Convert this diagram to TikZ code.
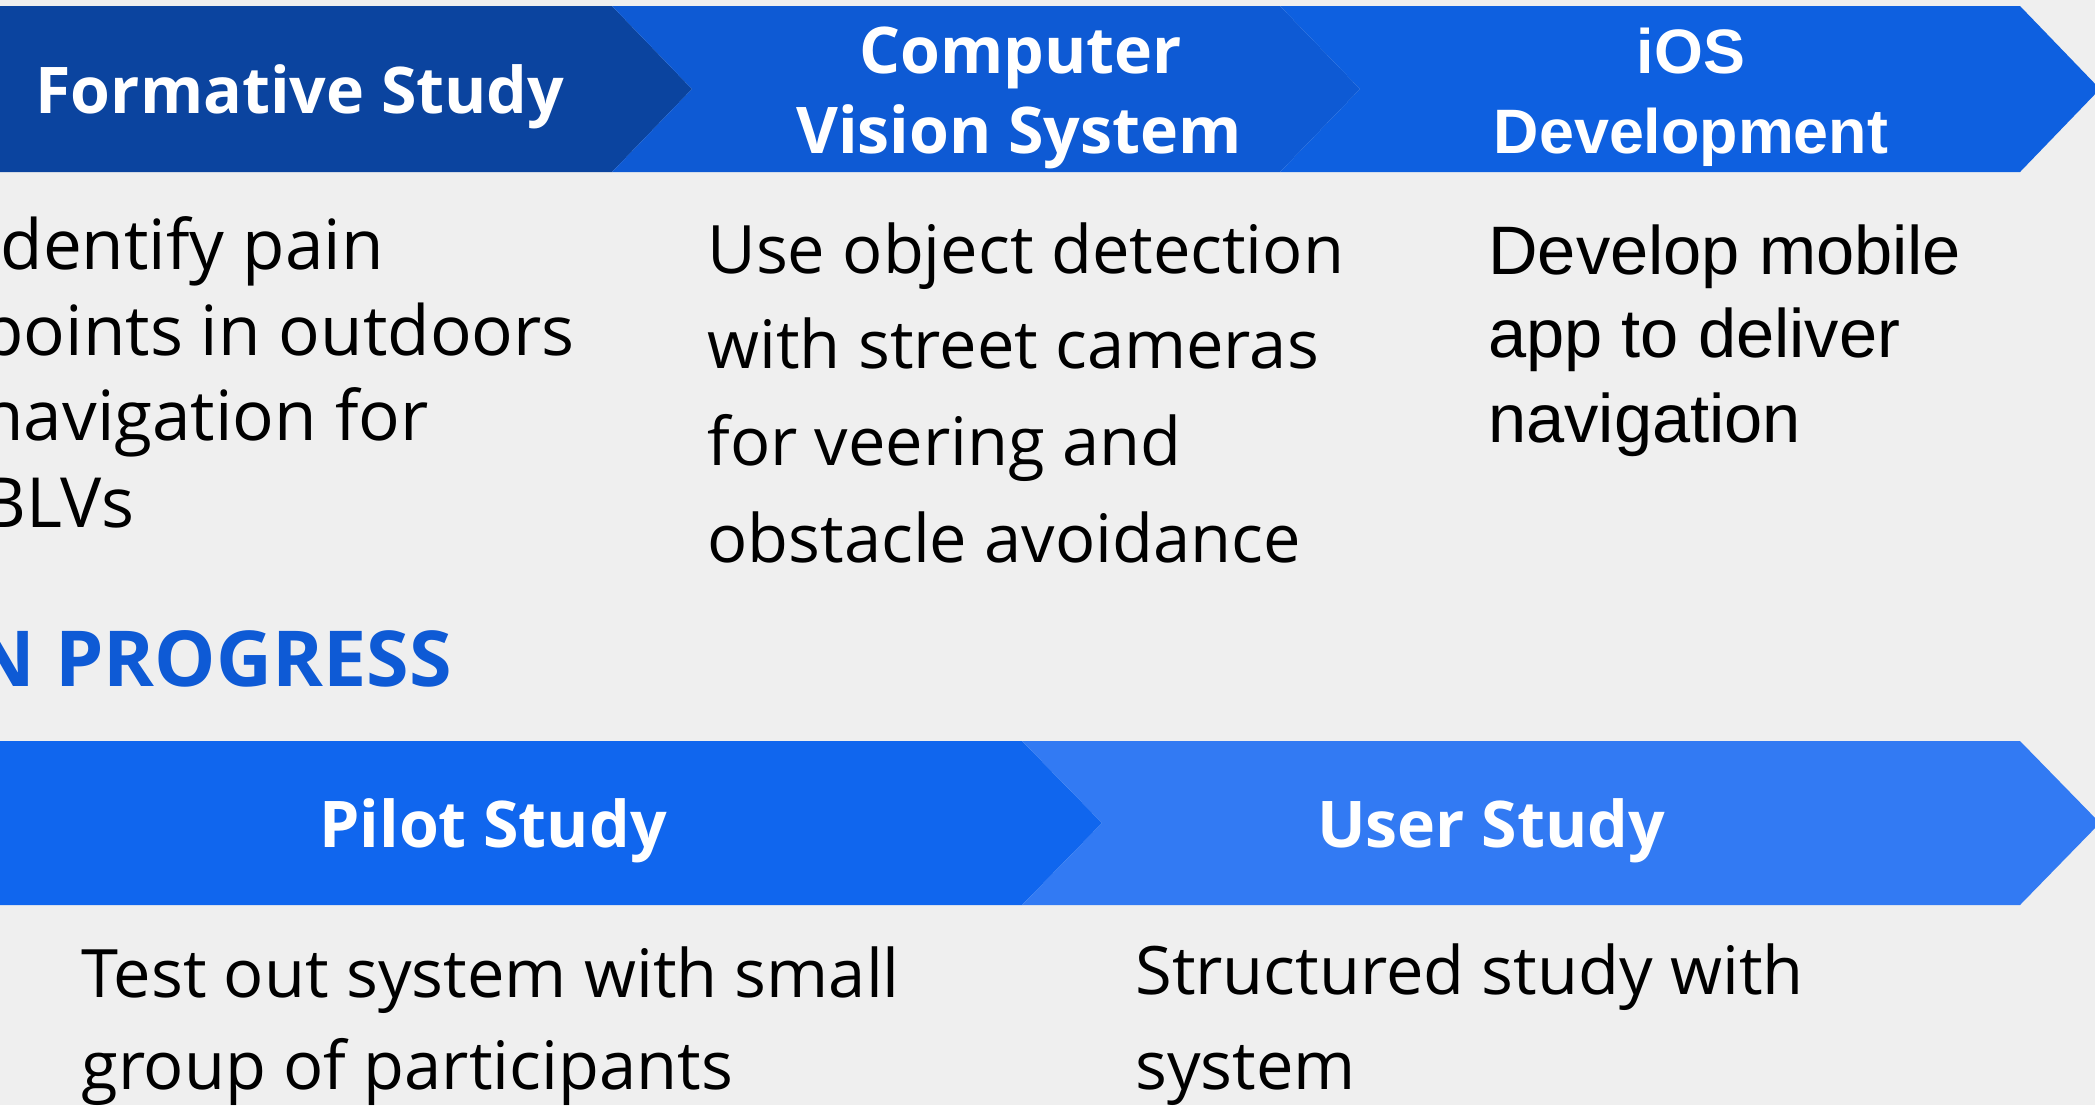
\documentclass[tikz,border=0pt]{standalone}
\usepackage{fontspec}
\setmainfont{Open Sans}
\newfontfamily\robo{Liberation Sans}
\definecolor{bg}{HTML}{EFEFEF}
\definecolor{cA}{HTML}{0B449F}
\definecolor{cB}{HTML}{0E5AD4}
\definecolor{cC}{HTML}{0E60E0}
\definecolor{cD}{HTML}{1066EE}
\definecolor{cE}{HTML}{327AF3}
\definecolor{prog}{HTML}{0E5AD5}
\tikzset{
  head/.style={text=white, inner sep=0pt, anchor=base, font=\bfseries\fontsize{32.2}{40}\selectfont},
  headios/.style={text=white, inner sep=0pt, anchor=base, font=\robo\bfseries\fontsize{31.4}{40}\selectfont},
  body/.style={text=black, inner sep=0pt, anchor=base west, font=\fontsize{33.4}{42}\selectfont},
  bodyone/.style={text=black, inner sep=0pt, anchor=base west, font=\fontsize{34.6}{42}\selectfont},
  bodyios/.style={text=black, inner sep=0pt, anchor=base west, font=\robo\fontsize{34.3}{42}\selectfont},
}
\begin{document}
\begin{tikzpicture}[x=0.5pt,y=-0.5pt]
\useasboundingbox[fill=bg] (0,0) rectangle (2095,1105);
\clip (0,0) rectangle (2095,1105);
% row 1 chevrons
\fill[cA] (-10,6) -- (612,6) -- (692,89) -- (612,172) -- (-10,172) -- cycle;
\fill[cB] (612,6) -- (1280,6) -- (1360,89) -- (1280,172) -- (612,172) -- (692,89) -- cycle;
\fill[cC] (1280,6) -- (2020,6) -- (2100,89) -- (2020,172) -- (1280,172) -- (1360,89) -- cycle;
% row 2 chevrons
\fill[cD] (-10,741) -- (1022,741) -- (1102,823) -- (1022,905) -- (-10,905) -- cycle;
\fill[cE] (1022,741) -- (2020,741) -- (2100,823) -- (2020,905) -- (1022,905) -- (1102,823) -- cycle;
% headers
\node[head] (hf) at (300,113) {Formative Study};
\node[head] (hc1) at (1021,73) {Computer};
\node[head] (hc2) at (1019,153) {Vision System};
\node[headios] (hi1) at (1691,73) {iOS};
\node[headios] (hi2) at (1691,153) {Development};
\node[head] (hp) at (493,847) {Pilot Study};
\node[head] (hu) at (1491,847) {User Study};
% in progress
\node[text=prog, inner sep=0pt, anchor=base east, font=\bfseries\fontsize{38.6}{48}\selectfont] (prog) at (452,686) {IN PROGRESS};
% column 1
\node[bodyone] (f1) at (-19,269) {Identify pain};
\node[bodyone] (f2) at (-19,355) {points in outdoors};
\node[bodyone] (f3) at (-19,440) {navigation for};
\node[bodyone] (f4) at (-19,527) {BLVs};
% column 2
\node[body] (c1) at (707,273) {Use object detection};
\node[body] (c2) at (707,368) {with street cameras};
\node[body] (c3) at (707,465) {for veering and};
\node[body] (c4) at (707,562) {obstacle avoidance};
% column 3
\node[bodyios] (i1) at (1488,274) {Develop mobile};
\node[bodyios] (i2) at (1488,357) {app to deliver};
\node[bodyios] (i3) at (1488,442) {navigation};
% row 2 texts
\node[body] (p1) at (81,997) {Test out system with small};
\node[body] (p2) at (81,1089) {group of participants};
\node[body] (u1) at (1135,994) {Structured study with};
\node[body] (u2) at (1135,1089) {system};
\end{tikzpicture}
\end{document}
